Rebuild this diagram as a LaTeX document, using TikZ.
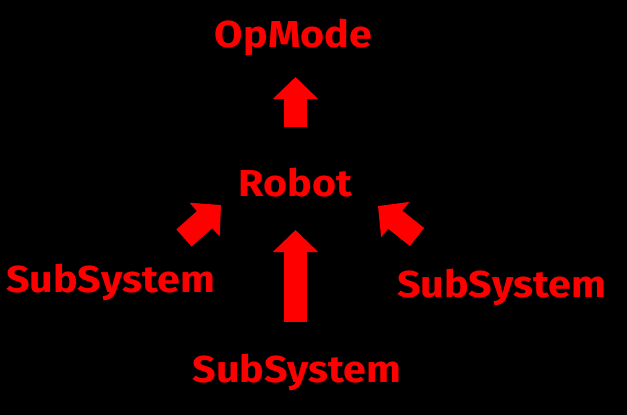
\documentclass[tikz,border=0pt]{standalone}
\usepackage{fontspec}
\setmainfont{Fira Sans}
\usetikzlibrary{arrows.meta}
\definecolor{fg}{RGB}{255,0,0}
\newcommand\widetext[1]{\scalebox{1.1}[1]{#1}}
\tikzset{
  lbl/.style={text=fg, font=\fontsize{37.5}{40}\selectfont\bfseries, inner sep=0pt, anchor=base},
  bigarrow/.style={draw=fg, line width=23pt, line cap=butt, -{Triangle[width=44pt,length=22pt]}}
}
\begin{document}
\begin{tikzpicture}[x=1pt,y=-1pt]
\fill[black] (0,0) rectangle (627,415);
\useasboundingbox (0,0) rectangle (627,415);
\node[lbl] (opmode) at (293.5,47) {\widetext{OpMode}};
\node[lbl] (robot) at (295.5,196) {\widetext{Robot}};
\node[lbl] (subl) at (110.5,292) {\widetext{SubSystem}};
\node[lbl] (subr) at (501.5,297) {\widetext{SubSystem}};
\node[lbl] (subb) at (297,382) {\widetext{SubSystem}};
\coordinate (a1s) at (295.5,127);
\coordinate (a1e) at (295.5,77);
\coordinate (a2s) at (295.5,322);
\coordinate (a2e) at (295.5,230);
\coordinate (a3s) at (184,238);
\coordinate (a3e) at (221,205);
\coordinate (a4s) at (417,237);
\coordinate (a4e) at (378,206);
\draw[bigarrow] (a1s) -- (a1e);
\draw[bigarrow] (a2s) -- (a2e);
\draw[bigarrow] (a3s) -- (a3e);
\draw[bigarrow] (a4s) -- (a4e);
\end{tikzpicture}
\end{document}
